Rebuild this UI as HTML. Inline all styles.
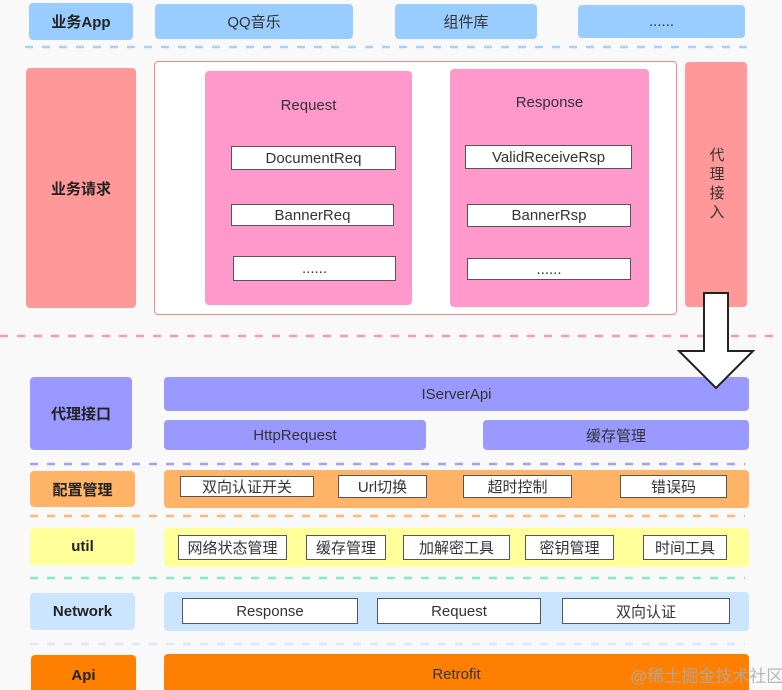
<!DOCTYPE html>
<html><head><meta charset="utf-8"><style>
html,body{margin:0;width:782px;height:690px;overflow:hidden}
body{background:#f9f9f9;position:relative;font-family:"Liberation Sans","Noto Sans CJK SC",sans-serif;color:#333}
.b{position:absolute;display:flex;align-items:center;justify-content:center;border-radius:4px;font-size:15px;box-sizing:border-box}
.w{position:absolute;display:flex;align-items:center;justify-content:center;background:#fff;border:1.5px solid #555;font-size:15px;box-sizing:border-box;color:#333}
.h{font-weight:bold;font-size:15px;color:#222}
svg{position:absolute;left:0;top:0}
</style></head><body>
<div class="b h" style="left:29px;top:3px;width:104px;height:37px;background:#99ccff">业务App</div>
<div class="b" style="left:155px;top:4px;width:198px;height:35px;background:#99ccff">QQ音乐</div>
<div class="b" style="left:395px;top:4px;width:142px;height:35px;background:#99ccff">组件库</div>
<div class="b" style="left:578px;top:5px;width:167px;height:33px;background:#99ccff">......</div>

<div class="b h" style="left:26px;top:68px;width:110px;height:240px;background:#ff9999">业务请求</div>
<div class="b" style="left:154px;top:61px;width:523px;height:254px;background:#fff;border:1.5px solid #f08a8a"></div>
<div class="b" style="left:205px;top:71px;width:207px;height:234px;background:#ff99cc;align-items:flex-start;padding-top:26px">Request</div>
<div class="b" style="left:450px;top:69px;width:199px;height:238px;background:#ff99cc;align-items:flex-start;padding-top:25px">Response</div>
<div class="w" style="left:231px;top:146px;width:165px;height:24px">DocumentReq</div>
<div class="w" style="left:231px;top:204px;width:163px;height:22px">BannerReq</div>
<div class="w" style="left:233px;top:256px;width:163px;height:25px">......</div>
<div class="w" style="left:465px;top:145px;width:167px;height:24px">ValidReceiveRsp</div>
<div class="w" style="left:467px;top:204px;width:164px;height:23px">BannerRsp</div>
<div class="w" style="left:467px;top:258px;width:164px;height:22px">......</div>
<div class="b" style="left:685px;top:62px;width:62px;height:245px;background:#ff9999;writing-mode:vertical-rl;letter-spacing:4px">代理接入</div>

<div class="b h" style="left:30px;top:377px;width:102px;height:73px;background:#9999ff">代理接口</div>
<div class="b" style="left:164px;top:377px;width:585px;height:34px;background:#9999ff">IServerApi</div>
<div class="b" style="left:164px;top:420px;width:262px;height:30px;background:#9999ff">HttpRequest</div>
<div class="b" style="left:483px;top:420px;width:266px;height:30px;background:#9999ff">缓存管理</div>

<div class="b h" style="left:30px;top:471px;width:105px;height:36px;background:#ffb366">配置管理</div>
<div class="b" style="left:164px;top:470px;width:585px;height:38px;background:#ffb366"></div>
<div class="w" style="left:180px;top:476px;width:134px;height:21px">双向认证开关</div>
<div class="w" style="left:338px;top:475px;width:89px;height:23px">Url切换</div>
<div class="w" style="left:463px;top:475px;width:109px;height:23px">超时控制</div>
<div class="w" style="left:620px;top:475px;width:107px;height:23px">错误码</div>

<div class="b h" style="left:30px;top:528px;width:105px;height:37px;background:#ffff99">util</div>
<div class="b" style="left:164px;top:528px;width:585px;height:39px;background:#ffff99"></div>
<div class="w" style="left:178px;top:535px;width:109px;height:25px">网络状态管理</div>
<div class="w" style="left:306px;top:535px;width:80px;height:25px">缓存管理</div>
<div class="w" style="left:403px;top:535px;width:107px;height:25px">加解密工具</div>
<div class="w" style="left:525px;top:535px;width:89px;height:25px">密钥管理</div>
<div class="w" style="left:643px;top:535px;width:84px;height:25px">时间工具</div>

<div class="b h" style="left:30px;top:593px;width:105px;height:37px;background:#cce5ff">Network</div>
<div class="b" style="left:164px;top:592px;width:585px;height:39px;background:#cce5ff"></div>
<div class="w" style="left:182px;top:598px;width:176px;height:26px">Response</div>
<div class="w" style="left:377px;top:598px;width:164px;height:26px">Request</div>
<div class="w" style="left:562px;top:598px;width:168px;height:26px">双向认证</div>

<div class="b h" style="left:31px;top:655px;width:105px;height:40px;background:#ff8000">Api</div>
<div class="b" style="left:164px;top:654px;width:585px;height:40px;background:#ff8000">Retrofit</div>
<div style="position:absolute;left:630px;top:662px;font-size:17px;white-space:nowrap;color:rgba(170,170,170,0.85)">@稀土掘金技术社区</div>

<svg width="782" height="690">
<g stroke-width="2.5" stroke-dasharray="8 9" fill="none">
<line x1="25" y1="47" x2="748" y2="47" stroke="#a8d0f8"/>
<line x1="0" y1="336" x2="782" y2="336" stroke="#f4a0a0"/>
<line x1="30" y1="464" x2="745" y2="464" stroke="#a8a0ee"/>
<line x1="30" y1="516" x2="745" y2="516" stroke="#f8b880"/>
<line x1="30" y1="578" x2="745" y2="578" stroke="#88e8c0"/>
<line x1="30" y1="644" x2="745" y2="644" stroke="#d8e8f8"/>
</g>
<polygon points="704,293 728,293 728,351 753,351 716,388 679,351 704,351" fill="#fff" stroke="#222" stroke-width="2"/>
</svg>
</body></html>
